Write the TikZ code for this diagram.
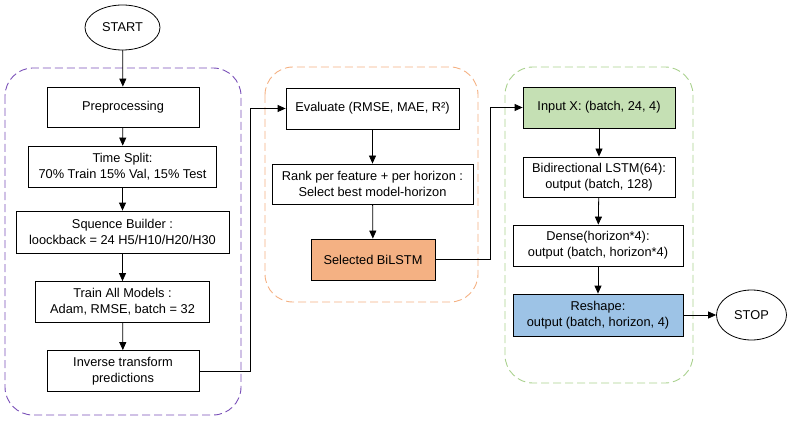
\documentclass[tikz,border=0pt]{standalone}
\usepackage{fontspec}
\setmainfont{Liberation Sans}
\usetikzlibrary{arrows.meta,shapes.geometric}
\definecolor{purp}{HTML}{7A50B8}
\definecolor{orln}{HTML}{F4B183}
\definecolor{grln}{HTML}{A9D18E}
\definecolor{orfill}{HTML}{F4B183}
\definecolor{grfill}{HTML}{C5E0B4}
\definecolor{blfill}{HTML}{9DC3E6}
\begin{document}
\begin{tikzpicture}[x=1pt,y=-1pt,
  box/.style={draw=black,line width=0.8pt,fill=white,align=center,inner sep=2pt,
    font=\fontsize{12.8}{16}\selectfont},
  oval/.style={draw=black,line width=0.8pt,fill=white,ellipse,inner sep=0pt,
    font=\fontsize{12.8}{16}\selectfont},
  arr/.style={line width=0.8pt,-{Triangle[length=8pt,width=7pt]}},
  group/.style={dash pattern=on 8pt off 4pt,line width=0.9pt,rounded corners=28pt}]
\useasboundingbox (0,0) rectangle (797,422);
% group frames
\draw[group,draw=purp] (5,68) rectangle (241,415);
\draw[group,draw=orln] (265,67) rectangle (478,302);
\draw[group,draw=grln] (505,67) rectangle (693,383);
% left column
\node[oval,minimum width=75pt,minimum height=45pt] (start) at (122.5,27.5) {START};
\node[box,minimum width=152pt,minimum height=40pt] (pre) at (123,107) {Preprocessing};
\node[box,minimum width=188pt,minimum height=41pt] (split) at (122.5,166.5) {Time Split:\\70\% Train 15\% Val, 15\% Test};
\node[box,minimum width=213pt,minimum height=42pt] (seq) at (122.5,232) {Squence Builder :\\loockback = 24 H5/H10/H20/H30};
\node[box,minimum width=174pt,minimum height=41pt] (train) at (122.5,302) {Train All Models :\\Adam, RMSE, batch = 32};
\node[box,minimum width=152pt,minimum height=41pt] (inv) at (123,371) {Inverse transform\\predictions};
% middle column
\node[box,minimum width=173pt,minimum height=41pt] (eval) at (372.5,108.5) {Evaluate (RMSE, MAE, R²)};
\node[box,minimum width=201pt,minimum height=40pt] (rank) at (372.5,184) {Rank per feature + per horizon :\\Select best model-horizon};
\node[box,fill=orfill,minimum width=124pt,minimum height=41pt] (sel) at (373,259.5) {Selected BiLSTM};
% right column
\node[box,fill=grfill,minimum width=152pt,minimum height=41pt] (inp) at (599,107.5) {Input X: (batch, 24, 4)};
\node[box,minimum width=152pt,minimum height=40pt] (bil) at (599,177) {Bidirectional LSTM(64):\\output (batch, 128)};
\node[box,minimum width=170pt,minimum height=41pt] (dense) at (598,245.5) {Dense(horizon*4):\\output (batch, horizon*4)};
\node[box,fill=blfill,minimum width=170pt,minimum height=42pt] (resh) at (598,315) {Reshape:\\output (batch, horizon, 4)};
\node[oval,minimum width=70pt,minimum height=50pt] (stop) at (751.5,315) {STOP};
% connectors
\draw[arr] (start) -- (pre);
\draw[arr] (pre) -- (split);
\draw[arr] (split) -- (seq);
\draw[arr] (seq) -- (train);
\draw[arr] (train) -- (inv);
\coordinate (c1) at (250,371);
\draw[arr] (inv.east) -- (c1) |- (eval.west);
\draw[arr] (eval) -- (rank);
\draw[arr] (rank) -- (sel);
\coordinate (c2) at (490,259.5);
\draw[arr] (sel.east) -- (c2) |- (inp.west);
\draw[arr] (inp) -- (bil);
\draw[arr] (bil) -- (dense);
\draw[arr] (dense) -- (resh);
\draw[arr] (resh) -- (stop);
\end{tikzpicture}
\end{document}
